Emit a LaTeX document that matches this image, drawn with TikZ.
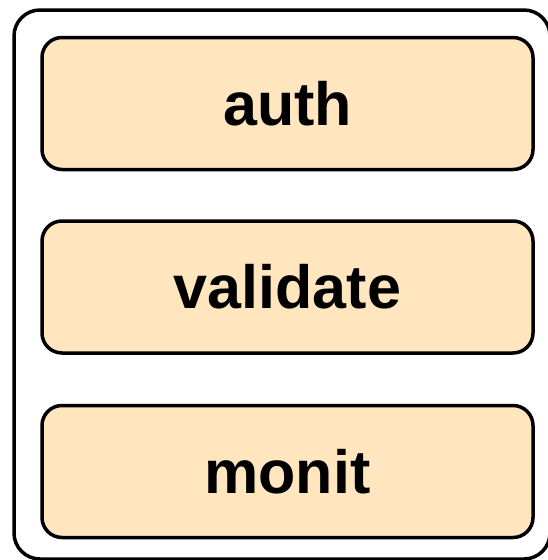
\documentclass[tikz,border=0pt]{standalone}
\usepackage{fontspec}
\setmainfont{Liberation Sans}
\definecolor{stagefill}{HTML}{FFE6BF}
\begin{document}
\begin{tikzpicture}[x=1pt,y=-1pt,
  frame/.style={draw=black,line width=3.5pt,rounded corners=26pt},
  stagebox/.style={draw=black,fill=stagefill,line width=3.5pt,rounded corners=20pt,
    minimum width=491pt,minimum height=132pt,inner sep=0pt,
    font=\bfseries\fontsize{61}{68}\selectfont}]
\useasboundingbox (0,0) rectangle (548,560);
\draw[frame] (14,10) rectangle (550,559);
\node[stagebox] (auth) at (287.5,103.5) {auth};
\node[stagebox] (validate) at (287.5,287) {validate};
\node[stagebox] (monit) at (287.5,471.5) {monit};
\end{tikzpicture}
\end{document}
